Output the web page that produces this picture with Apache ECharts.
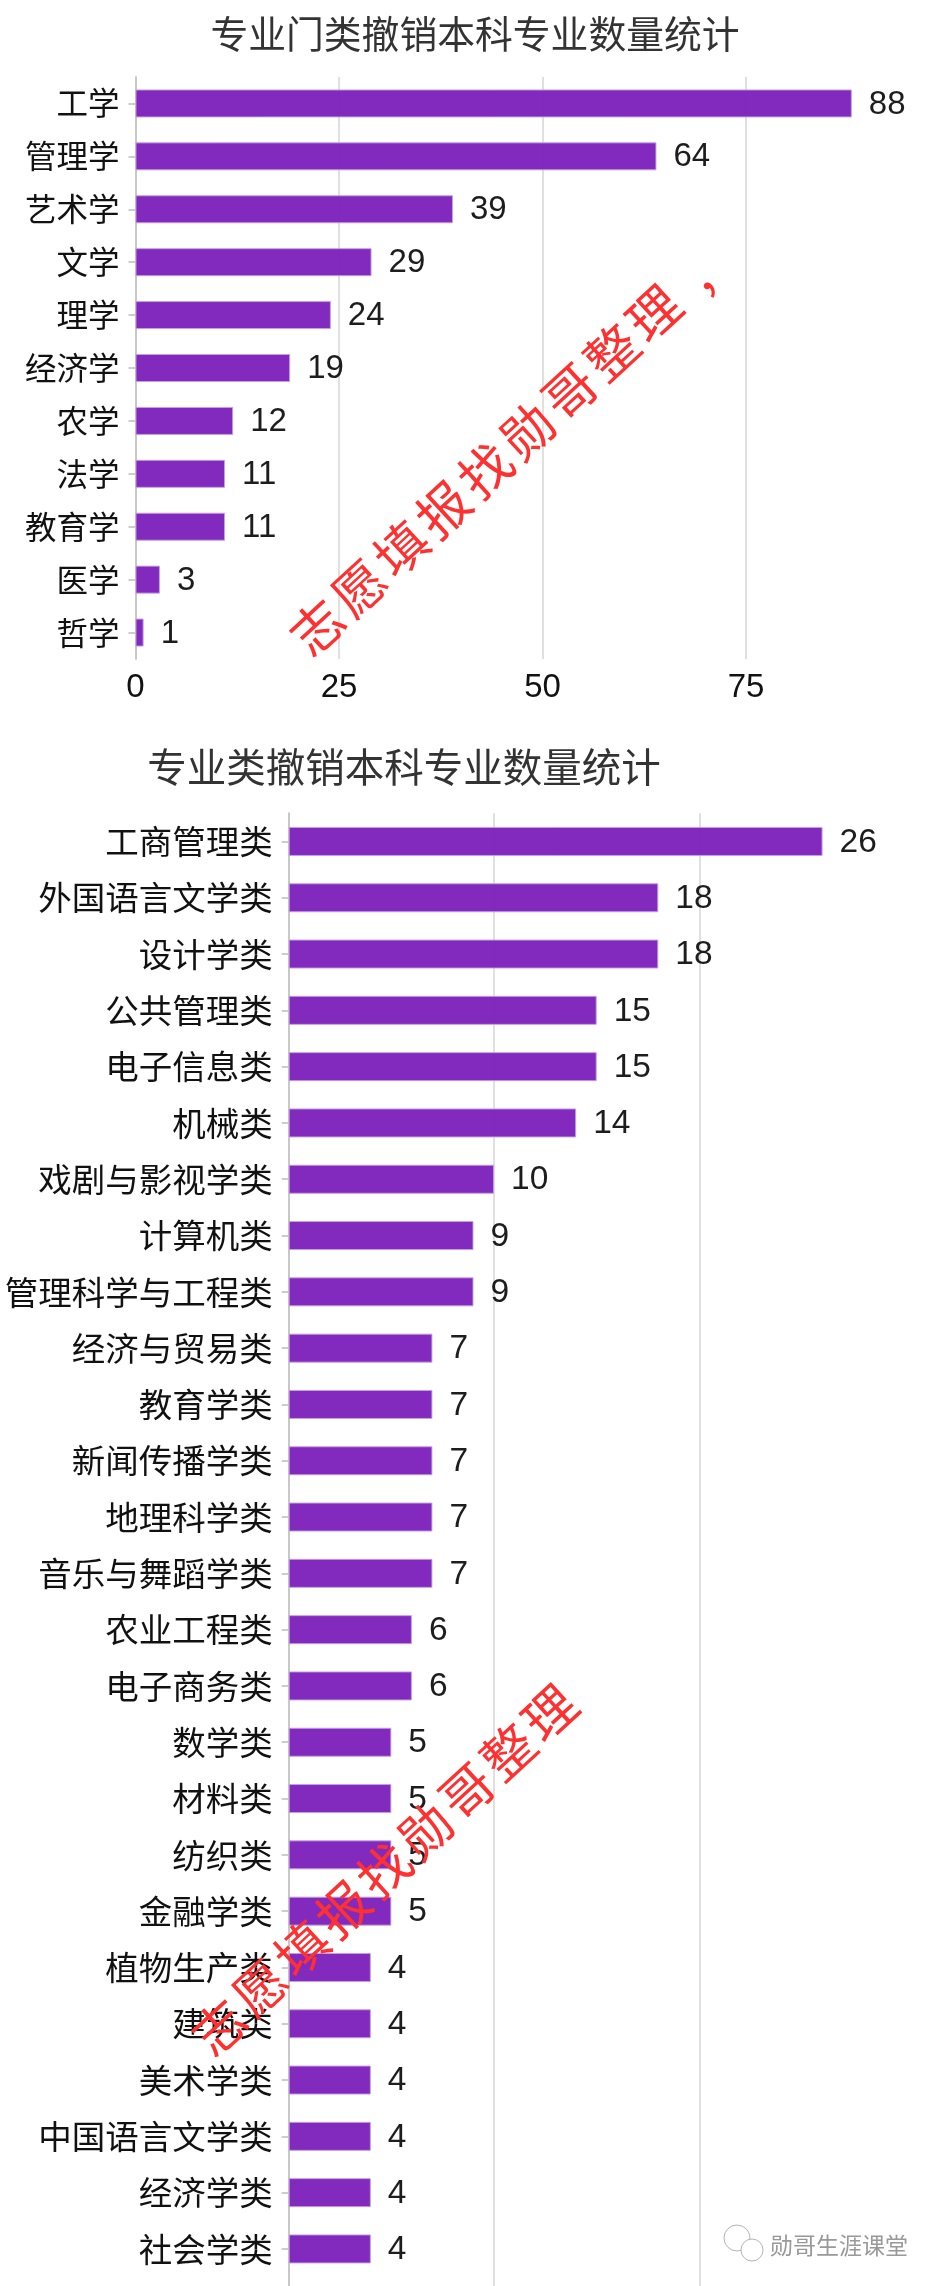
<!DOCTYPE html>
<html><head><meta charset="utf-8">
<style>html,body{margin:0;padding:0;background:#fff}#c{width:938px;height:2286px}</style>
<script src="https://cdn.jsdelivr.net/npm/echarts@6/dist/echarts.min.js"></script>
</head><body><div id="c"></div>
<script>
const title1 = '专业门类撤销本科专业数量统计';
const title2 = '专业类撤销本科专业数量统计';
const cats1 = ['工学','管理学','艺术学','文学','理学','经济学','农学','法学','教育学','医学','哲学'];
const vals1 = [88,64,39,29,24,19,12,11,11,3,1];
const cats2 = ['工商管理类','外国语言文学类','设计学类','公共管理类','电子信息类','机械类','戏剧与影视学类','计算机类','管理科学与工程类','经济与贸易类','教育学类','新闻传播学类','地理科学类','音乐与舞蹈学类','农业工程类','电子商务类','数学类','材料类','纺织类','金融学类','植物生产类','建筑类','美术学类','中国语言文学类','经济学类','社会学类'];
const vals2 = [26,18,18,15,15,14,10,9,9,7,7,7,7,7,6,6,5,5,5,5,4,4,4,4,4,4];
const watermark1 = '志愿填报找勋哥整理,';
const watermark2 = '志愿填报找勋哥整理';
const brand = '勋哥生涯课堂';

const CJK = '"Noto Sans CJK SC","Noto Sans",sans-serif';
const LAT = '"Liberation Sans",Arial,sans-serif';
const PURPLE = '#7b1eba', EDGE = '#c49fe3';

function xAxis(idx, max, interval, showLabels){
  return {type:'value', gridIndex:idx, min:0, max, interval,
    axisLine:{show:false}, axisTick:{show:false},
    axisLabel:{show:showLabels, color:'#111', fontFamily:LAT, fontSize:33, margin:12, showMaxLabel:false},
    splitLine:{show:true, showMinLine:false, showMaxLine:false, lineStyle:{color:'#e0e0e0', width:2}}};
}
function yAxis(idx, cats, fs, extra){
  return Object.assign({type:'category', gridIndex:idx, data:cats, inverse:true,
    axisLine:{show:true, lineStyle:{color:'#c8c8c8', width:2}},
    axisTick:{show:true, alignWithLabel:true, length:7, lineStyle:{color:'#cccccc', width:2}},
    axisLabel:{color:'#111', fontFamily:CJK, fontSize:fs, margin:16, interval:0,
      formatter:v=>v||''},
    splitLine:{show:false}}, extra||{});
}
function series(idx, vals, bw, fs){
  return {type:'bar', xAxisIndex:idx, yAxisIndex:idx, data:vals, barWidth:bw, silent:true,
    itemStyle:{color:PURPLE, borderColor:EDGE, borderWidth:1, opacity:0.95},
    label:{show:true, position:'right', distance:17, color:'#111', fontFamily:LAT, fontSize:fs, offset:[0,1]}};
}
function stamp(text,x0,y0,dx,dy){
  return Array.from(text).map((ch,i)=>({type:'text', x:x0+i*dx, y:y0+i*dy, rotation:0.745, z:100, silent:true,
    style:{text:ch, fill:'#ff3030', font:'52px '+CJK, textAlign:'center', textVerticalAlign:'middle'}}));
}
const chart = echarts.init(document.getElementById('c'), null, {renderer:'canvas'});
chart.setOption({
  animation:false, backgroundColor:'#fff',
  title:[
    {text:title1, left:470, top:29, textAlign:'center', textVerticalAlign:'middle', textStyle:{fontFamily:CJK, fontSize:37.8, fontWeight:'normal', color:'#333'}},
    {text:title2, left:399, top:762, textAlign:'center', textVerticalAlign:'middle', textStyle:{fontFamily:CJK, fontSize:39.5, fontWeight:'normal', color:'#333'}}
  ],
  grid:[
    {left:135.5, top:77, width:732.6, height:582, outerBoundsMode:'none'},
    {left:288.7, top:813.3, width:616, height:1520.1, outerBoundsMode:'none'}
  ],
  xAxis:[xAxis(0,90,25,true), xAxis(1,30,10,false)],
  yAxis:[yAxis(0,cats1,31.5), yAxis(1,cats2,33.5,{max:26})],
  series:[series(0,vals1,28,33), series(1,vals2,29,33.5)],
  graphic:[
    ...stamp(watermark1,317,627,42.1,-39.25),
    ...stamp(watermark2,219,2027,41.3,-39.3),
    {type:'circle', shape:{cx:737,cy:2238,r:13}, style:{fill:'#fff',stroke:'#b5b5b5',lineWidth:1}, silent:true},
    {type:'circle', shape:{cx:752,cy:2250,r:11}, style:{fill:'#fff',stroke:'#b5b5b5',lineWidth:1}, silent:true},
    {type:'text', x:770, y:2245, silent:true, style:{text:brand, fill:'#999', font:'23px '+CJK, textVerticalAlign:'middle'}}
  ]
});
</script></body></html>
